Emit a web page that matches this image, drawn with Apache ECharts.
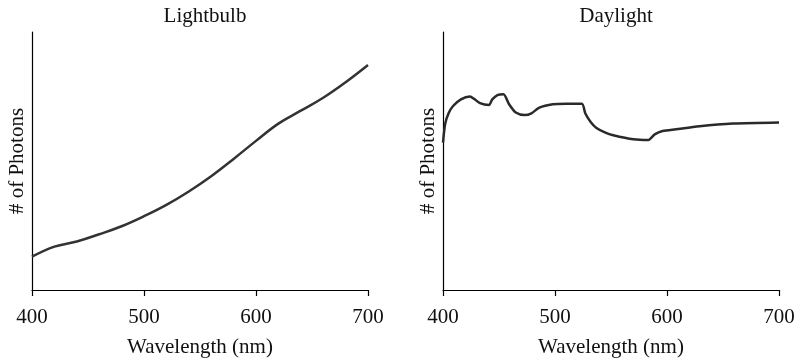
<!DOCTYPE html>
<html>
<head>
<meta charset="utf-8">
<script src="https://cdn.jsdelivr.net/npm/echarts@6/dist/echarts.min.js"></script>
<style>
html,body{margin:0;padding:0;background:#fff;}
#chart{width:799px;height:360px;}
</style>
</head>
<body>
<div id="chart"></div>
<script>
var titles = ['Lightbulb', 'Daylight'];
var xTicks = [400, 500, 600, 700];
var xName = 'Wavelength (nm)';
var yName = '# of Photons';

var bulbNm = [400, 420, 440, 460, 480, 500, 520, 540, 560, 580, 600, 620, 640, 660, 680, 700];
var bulbVal = [12.9, 16.8, 18.8, 21.6, 24.7, 28.6, 33.0, 38.2, 44.1, 50.8, 57.8, 64.5, 69.5, 74.5, 80.5, 87.2];

var dayNm = [400, 402, 405, 409, 416, 424, 428, 433, 441, 444, 449, 454, 459, 465, 473, 479, 486, 498, 510, 524, 527, 532, 537, 545, 552, 570, 583, 589, 596, 608, 629, 659, 700];
var dayVal = [57.1, 64.5, 68.5, 71.3, 73.9, 75.0, 74.0, 72.4, 71.7, 73.9, 75.6, 75.9, 72.0, 68.8, 67.8, 68.5, 70.7, 72.0, 72.2, 72.2, 68.5, 65.0, 62.8, 61.0, 60.0, 58.4, 58.1, 60.3, 61.6, 62.3, 63.5, 64.5, 64.9];

function pairs(xs, ys) { return xs.map(function (x, i) { return [x, ys[i]]; }); }

var font = 'Liberation Serif';
var fs = 21;
var txt = '#111';
var grids = [
  { left: 32, top: 32, width: 336, height: 258, containLabel: false, outerBoundsMode: 'none' },
  { left: 443, top: 32, width: 336, height: 258, containLabel: false, outerBoundsMode: 'none' }
];
function xAxis(i) {
  return {
    type: 'value', gridIndex: i, min: xTicks[0], max: xTicks[xTicks.length - 1], interval: 100,
    name: xName, nameLocation: 'middle', nameGap: 47,
    nameTextStyle: { fontFamily: font, fontSize: fs, color: txt },
    axisLine: { lineStyle: { color: '#000', width: 1.2 } },
    axisTick: { show: true, length: 6, lineStyle: { color: '#000', width: 1.2 } },
    axisLabel: { fontFamily: font, fontSize: fs, color: txt, margin: 17 },
    splitLine: { show: false }
  };
}
function yAxis(i) {
  return {
    type: 'value', gridIndex: i, min: 0, max: 100,
    name: yName, nameLocation: 'middle', nameGap: 4, nameRotate: 90,
    nameTextStyle: { fontFamily: font, fontSize: fs, color: txt },
    axisLine: { show: true, lineStyle: { color: '#000', width: 1.2 } },
    axisTick: { show: false }, axisLabel: { show: false }, splitLine: { show: false }
  };
}
var chart = echarts.init(document.getElementById('chart'), null, { renderer: 'canvas' });
chart.setOption({
  animation: false,
  backgroundColor: '#fff',
  title: [
    { text: titles[0], left: 200, top: 1, textAlign: 'center', textStyle: { fontFamily: font, fontSize: fs, fontWeight: 'normal', color: txt } },
    { text: titles[1], left: 611, top: 1, textAlign: 'center', textStyle: { fontFamily: font, fontSize: fs, fontWeight: 'normal', color: txt } }
  ],
  grid: grids,
  xAxis: [xAxis(0), xAxis(1)],
  yAxis: [yAxis(0), yAxis(1)],
  series: [
    { type: 'line', xAxisIndex: 0, yAxisIndex: 0, data: pairs(bulbNm, bulbVal), smooth: 0.4, showSymbol: false,
      lineStyle: { color: '#333', width: 2.5 } },
    { type: 'line', xAxisIndex: 1, yAxisIndex: 1, data: pairs(dayNm, dayVal), smooth: 0.25, showSymbol: false,
      lineStyle: { color: '#2a2a2a', width: 2.5 } }
  ]
});
</script>
</body>
</html>
